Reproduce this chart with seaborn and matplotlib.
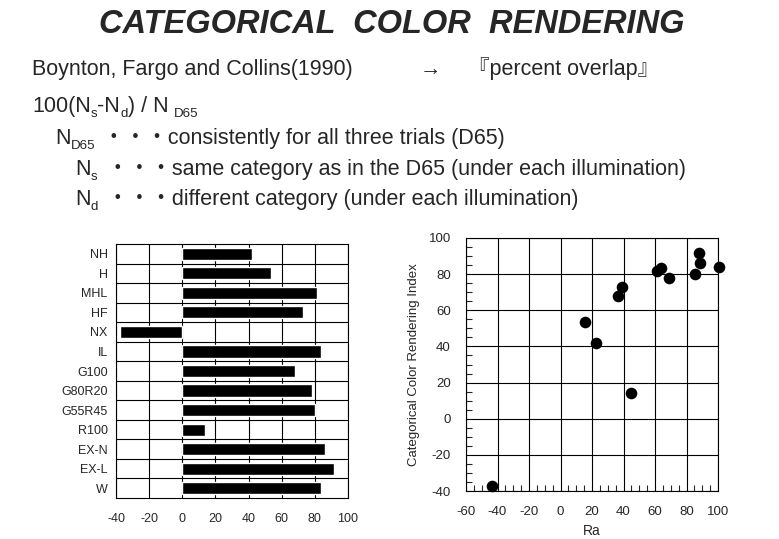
"""
Categorical colour rendering slide: CCRI bar chart per lamp and CCRI vs Ra scatter.
"""
import numpy as np
import pandas as pd
import matplotlib
matplotlib.use("Agg")
import matplotlib.pyplot as plt
from matplotlib.ticker import MultipleLocator
import seaborn as sns

W, H = 779, 539

# lamps, categorical colour rendering index (percent overlap) and Ra
lamps = ["NH", "H", "MHL", "HF", "NX", "IL", "G100", "G80R20", "G55R45",
         "R100", "EX-N", "EX-L", "W"]
ccri = [42, 53.5, 81.5, 73, -37.5, 84, 68, 78, 80, 14, 86, 91.5, 83.5]
ra = [22.5, 15.5, 61, 39, -43.5, 100.5, 36.5, 69, 85.5, 44.5, 88.5, 88, 63.5]

bar_ticks = [-40, -20, 0, 20, 40, 60, 80, 100]
ra_ticks = [-60, -40, -20, 0, 20, 40, 60, 80, 100]
index_ticks = [-40, -20, 0, 20, 40, 60, 80, 100]

TITLE = "CATEGORICAL  COLOR  RENDERING"

sns.set_style("white")
plt.rcParams['font.family'] = ['Liberation Sans', 'Noto Sans CJK JP', 'DejaVu Sans']
plt.rcParams['axes.unicode_minus'] = False

df = pd.DataFrame({"lamp": lamps, "ccri": ccri, "ra": ra})

fig = plt.figure(figsize=(W / 100, H / 100), dpi=100)
fig.patch.set_facecolor('white')


def px(x, y):
    return x / W, 1 - y / H


def write(x, y, parts, size=15.5):
    # draw text pieces one after another, (text, is_subscript)
    r = fig.canvas.get_renderer()
    for s, sub in parts:
        fs = size * 0.62 if sub else size
        dy = 5 if sub else 0
        t = fig.text(*px(x, y + dy), s, fontsize=fs, va='baseline', ha='left')
        x += t.get_window_extent(r).width
    return x


# header text
fig.text(*px(392, 33), TITLE, fontsize=23.5, weight='bold', style='italic',
         ha='center', va='baseline')
fig.text(*px(32, 75), "Boynton, Fargo and Collins(1990)", fontsize=15.5, va='baseline')
fig.text(*px(420, 75), "→", fontsize=15.5, va='baseline')
fig.text(*px(468, 75), "『percent overlap』", fontsize=15.5, va='baseline')

write(32, 112, [("100(N", False), ("s", True), ("-N", False), ("d", True),
                (") / N ", False), ("D65", True)])
write(55, 144, [("N", False), ("D65", True)])
fig.text(*px(103, 144), "・・・consistently for all three trials (D65)", fontsize=15.5, va='baseline')
write(75, 175, [("N", False), ("s", True)])
fig.text(*px(107, 175), "・・・same category as in the D65 (under each illumination)", fontsize=15.5, va='baseline')
write(75, 205, [("N", False), ("d", True)])
fig.text(*px(107, 205), "・・・different category (under each illumination)", fontsize=15.5, va='baseline')

# left: bar chart
ax1 = fig.add_axes([116 / W, 1 - 498 / H, 232 / W, 254 / H])
sns.barplot(data=df, x="ccri", y="lamp", orient="h", color="black", saturation=1,
            width=0.62, ax=ax1, zorder=3)
ax1.set_xlim(-40, 100)
ax1.set_ylim(12.5, -0.5)
ax1.set_xticks(bar_ticks)
ax1.set_yticks(np.arange(0.5, 12, 1), minor=True)
ax1.set_axisbelow(True)
ax1.grid(True, which='major', axis='x', color='black', lw=0.8)
ax1.grid(True, which='minor', axis='y', color='black', lw=0.8)
ax1.grid(False, which='major', axis='y')
ax1.tick_params(which='both', length=0, labelsize=9)
ax1.tick_params(axis='x', pad=11)
ax1.tick_params(axis='y', pad=6)
ax1.set_xlabel('')
ax1.set_ylabel('')
for sp in ax1.spines.values():
    sp.set_color('black')
    sp.set_linewidth(0.8)

# right: scatter
ax2 = fig.add_axes([466 / W, 1 - 491 / H, 252 / W, 253 / H])
sns.scatterplot(data=df, x="ra", y="ccri", color="black", s=70, edgecolor="black",
                linewidth=0, ax=ax2, clip_on=False, zorder=4)
ax2.set_xlim(-60, 100)
ax2.set_ylim(-40, 100)
ax2.set_xticks(ra_ticks)
ax2.set_yticks(index_ticks)
ax2.xaxis.set_minor_locator(MultipleLocator(5))
ax2.yaxis.set_minor_locator(MultipleLocator(5))
ax2.set_axisbelow(True)
ax2.grid(True, which='major', color='black', lw=0.8)
ax2.tick_params(which='major', length=0, labelsize=9.5, pad=11)
ax2.tick_params(which='minor', direction='in', length=4, width=0.8,
                bottom=True, left=True, top=False, right=False)
ax2.set_xlabel("Ra", fontsize=10, labelpad=4)
ax2.set_ylabel("Categorical Color Rendering Index", fontsize=9.5, labelpad=6)
for sp in ax2.spines.values():
    sp.set_color('black')
    sp.set_linewidth(0.8)

fig.savefig("out.png", dpi=100, facecolor='white')
